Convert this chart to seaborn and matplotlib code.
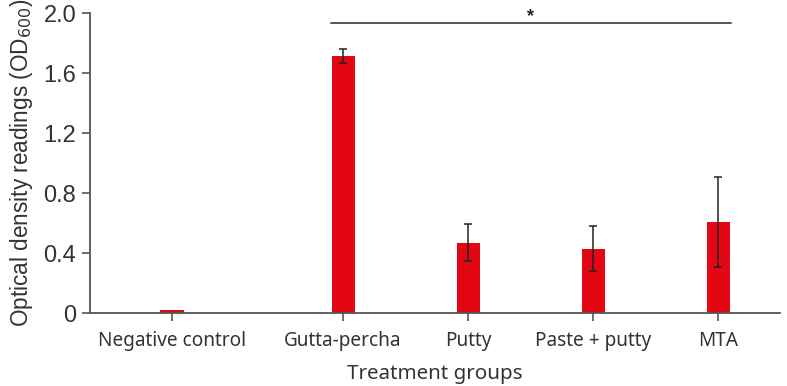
import matplotlib
matplotlib.use("Agg")
import matplotlib.pyplot as plt
import seaborn as sns
import numpy as np
import pandas as pd

groups = ["Negative control", "Gutta-percha", "Putty", "Paste + putty", "MTA"]
means = [0.018, 1.715, 0.47, 0.43, 0.61]
errors = [0.0, 0.045, 0.125, 0.15, 0.30]
positions = [0.0, 1.368, 2.368, 3.368, 4.368]
yticks = [0, 0.4, 0.8, 1.2, 1.6, 2.0]
ytick_labels = ["0", "0.4", "0.8", "1.2", "1.6", "2.0"]

sns.set_theme(style="ticks")
plt.rcParams["font.family"] = ["Liberation Sans", "DejaVu Sans"]

df = pd.DataFrame({"pos": positions, "value": means, "group": groups})

fig = plt.figure(figsize=(7.87, 3.86), dpi=100)
ax = fig.add_axes([0.1144, 0.189, 0.877, 0.777])

red = "#E30613"
sns.barplot(data=df, x="pos", y="value", native_scale=True, color=red,
            saturation=1, width=0.185, ax=ax, errorbar=None, linewidth=0)

ax.errorbar(positions[1:], means[1:], yerr=errors[1:], fmt="none",
            ecolor="#222222", elinewidth=1.1, capsize=3.2, capthick=1.1)

ax.set_xlim(-0.656, 4.864)
ax.set_ylim(0, 2.0)
ax.set_yticks(yticks)
ax.set_yticklabels(ytick_labels)
ax.set_xticks(positions)
ax.set_xticklabels(groups, family=["Noto Sans", "DejaVu Sans"])

for s in ["top", "right"]:
    ax.spines[s].set_visible(False)
for s in ["left", "bottom"]:
    ax.spines[s].set_color("#555555")
    ax.spines[s].set_linewidth(1.3)
ax.tick_params(axis="both", colors="#555555", width=1.2, length=6,
               labelcolor="#333333")
ax.tick_params(axis="x", labelsize=13.7, pad=7)
ax.tick_params(axis="y", labelsize=17, pad=4)

ax.set_xlabel("Treatment groups", fontsize=14.8, color="#333333",
              family=["Noto Sans", "DejaVu Sans"], labelpad=9)
ax.set_ylabel("Optical density readings (OD$_{600}$)", fontsize=16.3, color="#333333",
              labelpad=6)

# significance line
ax.plot([positions[1] - 0.095, positions[4] + 0.104], [1.935, 1.935],
        color="#555555", lw=1.4, clip_on=False)
ax.text(2.864, 1.98, "*", ha="center", va="center",
        fontsize=13, color="#222222", fontweight="bold")

fig.savefig("out.png", dpi=100)
